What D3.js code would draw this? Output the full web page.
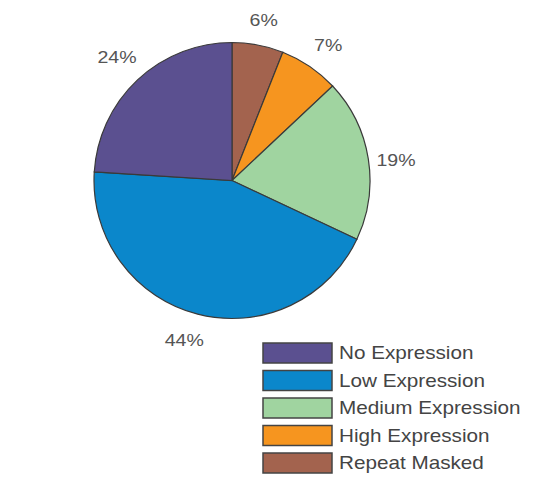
<!DOCTYPE html>
<html><head><meta charset="utf-8">
<script src="https://cdn.jsdelivr.net/npm/d3@7"></script>
<style>body{margin:0;background:#fff;}svg{display:block;}</style>
</head><body>
<svg id="c" width="548" height="480"></svg>
<script>
const categories = ["Repeat Masked","High Expression","Medium Expression","Low Expression","No Expression"];
const values = [6, 7, 19, 44, 24];
const colors = ["#a3634e","#f6951f","#a0d4a0","#0b87cb","#5b5090"];
const legendOrder = ["No Expression","Low Expression","Medium Expression","High Expression","Repeat Masked"];

const svg = d3.select("#c");
const cx = 232, cy = 180.5, r = 138;
const color = d3.scaleOrdinal().domain(categories).range(colors);
const pie = d3.pie().sort(null).value(d => d.v);
const arcs = pie(categories.map((c,i)=>({c, v: values[i]})));
const arc = d3.arc().innerRadius(0).outerRadius(r);
const g = svg.append("g").attr("transform",`translate(${cx},${cy})`);
g.selectAll("path").data(arcs).join("path")
  .attr("d", arc).attr("fill", d=>color(d.data.c))
  .attr("stroke","#3a3a3a").attr("stroke-width",1.2);

const labelR = [164, 164, 164, 172, 168];
const labelAdj = [[1,1],[4,0],[2,5],[-5,-7],[0,-1]];
g.selectAll("text").data(arcs).join("text")
  .attr("transform",(d,i)=>{
    const a=(d.startAngle+d.endAngle)/2;
    const x=Math.sin(a)*labelR[i]+labelAdj[i][0], y=-Math.cos(a)*labelR[i]+labelAdj[i][1];
    return `translate(${x},${y}) scale(1.15,1)`;})
  .attr("text-anchor","middle").attr("dominant-baseline","central")
  .attr("font-family","Liberation Sans, Arial, sans-serif").attr("font-size",17)
  .attr("fill","#555").text(d=>d.data.v+"%");

const lg = svg.append("g").attr("transform","translate(263,343)");
const row = lg.selectAll("g").data(legendOrder).join("g")
  .attr("transform",(d,i)=>`translate(0,${i*27.5})`);
row.append("rect").attr("width",69).attr("height",20)
  .attr("fill",d=>color(d)).attr("stroke","#444").attr("stroke-width",1.5);
row.append("text").attr("transform","translate(76,10) scale(1.15,1)").attr("dominant-baseline","central")
  .attr("font-family","Liberation Sans, Arial, sans-serif").attr("font-size",18)
  .attr("fill","#444").text(d=>d);
</script>
</body></html>
